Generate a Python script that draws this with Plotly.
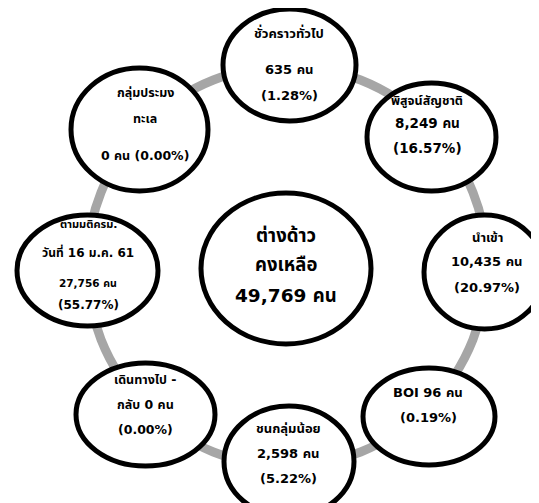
import plotly.graph_objects as go

# ---- data ----
categories = ["ชั่วคราวทั่วไป", "พิสูจน์สัญชาติ", "นำเข้า", "BOI", "ชนกลุ่มน้อย",
              "เดินทางไป - กลับ", "ตามมติครม. วันที่ 16 ม.ค. 61", "กลุ่มประมงทะเล"]
counts = [635, 8249, 10435, 96, 2598, 0, 27756, 0]
percents = [1.28, 16.57, 20.97, 0.19, 5.22, 0.00, 55.77, 0.00]
center_title = ["ต่างด้าว", "คงเหลือ"]
total_remaining = 49769
unit = "คน"

def cnt(i):
    return f"{counts[i]:,} {unit}"

def pct(i):
    return f"({percents[i]:.2f}%)"

# text lines for each bubble (built from the data)
label_lines = [
    [categories[0], cnt(0), pct(0)],
    [categories[1], cnt(1), pct(1)],
    [categories[2], cnt(2), pct(2)],
    [f"{categories[3]} {cnt(3)}", pct(3)],
    [categories[4], cnt(4), pct(4)],
    ["เดินทางไป -", f"กลับ {cnt(5)}", pct(5)],
    ["ตามมติครม.", "วันที่ 16 ม.ค. 61", cnt(6), pct(6)],
    ["กลุ่มประมง", "ทะเล", f"{cnt(7)} {pct(7)}"],
]

# ---- layout (pixel geometry) ----
W, H = 539, 503
# ellipse boxes: (x0, y0, x1, y1)
boxes = [
    (215, 1, 348, 113),
    (359, 75, 488, 183),
    (416, 207, 537, 321),
    (355, 360, 487, 457),
    (216, 398, 346, 509),
    (68, 355, 207, 458),
    (9, 207, 150, 318),
    (63, 60, 200, 183),
]
text_x = [281, 419, 479, 420, 280, 137, 80, 137]
text_y = [
    [32, 69, 95],
    [101, 123, 148],
    [237, 261, 287],
    [392, 417],
    [428, 453, 478],
    [379, 404, 429],
    [224, 252, 283, 305],
    [92, 118, 155],
]
text_size = [
    [13, 13, 13],
    [12.5, 13.5, 13.5],
    [13, 13, 13],
    [13, 13],
    [13, 13, 13],
    [12.5, 12.5, 12.5],
    [11, 12, 10.5, 12],
    [12.5, 12.5, 12.5],
]
center_box = (193, 185, 363, 336)
center_x = 278
center_y = [235, 264, 295]
SHIFT = -8

FONT = "'DejaVu Sans', Tahoma, 'Noto Sans Thai', 'Noto Sans', sans-serif"

fig = go.Figure()
fig.add_trace(go.Scatter(x=[0, W], y=[0, H], mode="markers",
                         marker=dict(opacity=0), hoverinfo="skip", showlegend=False))

shapes = []
# grey ring connecting bubbles
shapes.append(dict(type="circle", xref="x", yref="y",
                   x0=79, y0=58, x1=479, y1=458,
                   line=dict(color="#a6a6a6", width=9), fillcolor="rgba(0,0,0,0)",
                   layer="below"))
for (x0, y0, x1, y1) in boxes + [center_box]:
    shapes.append(dict(type="circle", xref="x", yref="y",
                       x0=x0, y0=y0, x1=x1, y1=y1,
                       line=dict(color="black", width=5), fillcolor="white",
                       layer="above"))

annotations = []
for i, lines in enumerate(label_lines):
    for j, line in enumerate(lines):
        annotations.append(dict(x=text_x[i], y=text_y[i][j] + SHIFT, xref="x", yref="y",
                                text=f"<b>{line}</b>", showarrow=False,
                                font=dict(family=FONT, size=text_size[i][j], color="black"),
                                xanchor="center", yanchor="middle"))
center_lines = center_title + [f"{total_remaining:,} {unit}"]
for j, line in enumerate(center_lines):
    annotations.append(dict(x=center_x, y=center_y[j] + SHIFT, xref="x", yref="y",
                            text=f"<b>{line}</b>", showarrow=False,
                            font=dict(family=FONT, size=18.5, color="black"),
                            xanchor="center", yanchor="middle"))

fig.update_layout(
    width=W, height=H,
    margin=dict(l=0, r=0, t=0, b=0),
    paper_bgcolor="white", plot_bgcolor="white",
    xaxis=dict(range=[0, W], visible=False, fixedrange=True),
    yaxis=dict(range=[H, 0], visible=False, fixedrange=True),
    shapes=shapes, annotations=annotations, showlegend=False,
)
fig.write_html("out.html", config={"displayModeBar": False})
